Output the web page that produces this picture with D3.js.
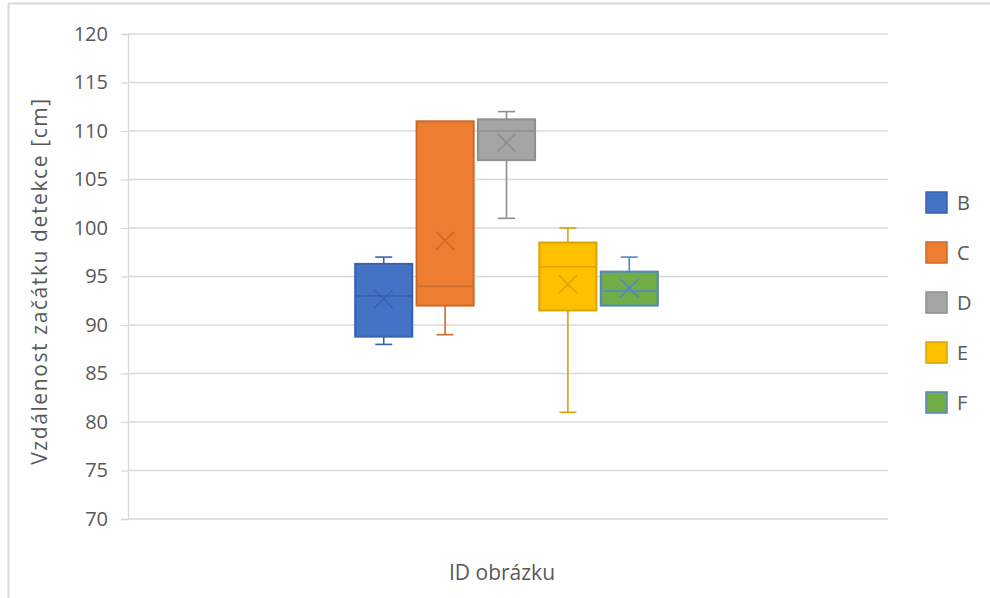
<!DOCTYPE html>
<html>
<head>
<meta charset="utf-8">
<script src="https://cdn.jsdelivr.net/npm/d3@7"></script>
<style>
  body { margin: 0; background: #fff; }
  text { font-family: "Open Sans", sans-serif; fill: #595959; }
</style>
</head>
<body>
<script>
// data
const series = ['B', 'C', 'D', 'E', 'F']
const mins = [88, 89, 101, 81, 92]
const q1s = [88.8, 92, 107, 91.5, 92]
const medians = [93, 94, 110, 96, 93.5]
const q3s = [96.3, 111, 111.2, 98.5, 95.5]
const maxs = [97, 111, 112, 100, 97]
const means = [92.7, 98.7, 108.8, 94.2, 93.8]
const yTicks = [70, 75, 80, 85, 90, 95, 100, 105, 110, 115, 120]

const fills = ['#4472C4', '#ED7D31', '#A5A5A5', '#FFC000', '#70AD47']
const strokes = ['#3862AE', '#CC6A2A', '#8E8E8E', '#D9A400', '#4F87C6']

const w = 990
const h = 598
const plotL = 128, plotR = 888, plotT = 34, plotB = 519

const svg = d3.select('body').append('svg')
  .attr('width', w)
  .attr('height', h)

// chart border (runs off the right and bottom edges)
svg.append('rect')
  .attr('x', 8.5).attr('y', 3.5)
  .attr('width', 1000).attr('height', 700)
  .attr('fill', 'none')
  .attr('stroke', '#d9d9d9')
  .attr('stroke-width', 2)

const y = d3.scaleLinear().domain([70, 120]).range([plotB, plotT])

const x = d3.scaleBand().domain(['']).range([plotL, plotR])
  .paddingInner(0).paddingOuter(0.738)
const xs = d3.scaleBand().domain(series).range([0, x.bandwidth()])
  .paddingInner(0.07).paddingOuter(0.035)

// gridlines
svg.append('g')
  .selectAll('line')
  .data(yTicks)
  .join('line')
  .attr('x1', plotL).attr('x2', plotR)
  .attr('y1', d => y(d)).attr('y2', d => y(d))
  .attr('stroke', '#d9d9d9')
  .attr('stroke-width', 1.3)

// y axis
const yAxis = d3.axisLeft(y).tickValues(yTicks).tickSize(7).tickPadding(13)
const gy = svg.append('g')
  .attr('transform', 'translate(' + plotL + ',0)')
  .call(yAxis)
gy.select('.domain').attr('stroke', '#d9d9d9').attr('stroke-width', 1.3)
gy.selectAll('.tick line').attr('stroke', '#d9d9d9').attr('stroke-width', 1.3)
gy.selectAll('.tick text')
  .style('font-size', '20px')
  .style('font-family', '"Open Sans", sans-serif')
  .attr('fill', '#595959')

// boxes
const data = series.map((s, i) => ({
  name: s, min: mins[i], q1: q1s[i], med: medians[i], q3: q3s[i], max: maxs[i], mean: means[i],
  fill: fills[i], stroke: strokes[i]
}))

const groups = svg.selectAll('g.box')
  .data(data)
  .join('g')
  .attr('class', 'box')
  .attr('transform', d => 'translate(' + (x('') + xs(d.name) - 1.5) + ',0)')

const bw = xs.bandwidth()
const cap = 17

// whiskers
groups.append('line')
  .attr('x1', bw / 2).attr('x2', bw / 2)
  .attr('y1', d => y(d.max)).attr('y2', d => y(d.q3))
  .attr('stroke', d => d.stroke).attr('stroke-width', 1.6)
groups.append('line')
  .attr('x1', bw / 2).attr('x2', bw / 2)
  .attr('y1', d => y(d.q1)).attr('y2', d => y(d.min))
  .attr('stroke', d => d.stroke).attr('stroke-width', 1.6)
groups.filter(d => d.max > d.q3).append('line')
  .attr('x1', bw / 2 - cap / 2).attr('x2', bw / 2 + cap / 2)
  .attr('y1', d => y(d.max)).attr('y2', d => y(d.max))
  .attr('stroke', d => d.stroke).attr('stroke-width', 1.6)
groups.filter(d => d.min < d.q1).append('line')
  .attr('x1', bw / 2 - cap / 2).attr('x2', bw / 2 + cap / 2)
  .attr('y1', d => y(d.min)).attr('y2', d => y(d.min))
  .attr('stroke', d => d.stroke).attr('stroke-width', 1.6)

groups.append('rect')
  .attr('x', 0).attr('width', bw)
  .attr('y', d => y(d.q3))
  .attr('height', d => y(d.q1) - y(d.q3))
  .attr('fill', d => d.fill)
  .attr('stroke', d => d.stroke)
  .attr('stroke-width', 2)

groups.append('line')
  .attr('x1', 0).attr('x2', bw)
  .attr('y1', d => y(d.med)).attr('y2', d => y(d.med))
  .attr('stroke', d => d.stroke).attr('stroke-width', 1.6)

// mean marker
const m = 9
groups.append('path')
  .attr('d', d => {
    const cx = bw / 2, cy = y(d.mean)
    return 'M' + (cx - m) + ',' + (cy - m) + 'L' + (cx + m) + ',' + (cy + m) +
      'M' + (cx - m) + ',' + (cy + m) + 'L' + (cx + m) + ',' + (cy - m)
  })
  .attr('stroke', d => d.stroke)
  .attr('stroke-width', 1.6)
  .attr('fill', 'none')

// axis titles
svg.append('text')
  .attr('transform', 'translate(47,' + 281 + ') rotate(-90)')
  .attr('text-anchor', 'middle')
  .style('font-size', '21px')
  .style('letter-spacing', '1.6px')
  .text('Vzdálenost začátku detekce [cm]')

svg.append('text')
  .attr('x', 502).attr('y', 580)
  .attr('text-anchor', 'middle')
  .style('font-size', '21px')
  .text('ID obrázku')

// legend
const legend = svg.selectAll('g.legend')
  .data(data)
  .join('g')
  .attr('class', 'legend')
  .attr('transform', (d, i) => 'translate(926,' + (192 + i * 50) + ')')
legend.append('rect')
  .attr('width', 21).attr('height', 21)
  .attr('fill', d => d.fill)
  .attr('stroke', d => d.stroke)
  .attr('stroke-width', 1.5)
legend.append('text')
  .attr('x', 31).attr('y', 18)
  .style('font-size', '20px')
  .text(d => d.name)
</script>
</body>
</html>
